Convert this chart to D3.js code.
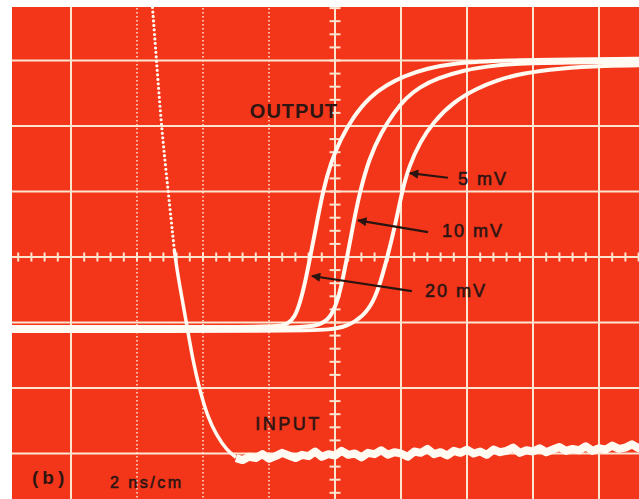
<!DOCTYPE html>
<html>
<head>
<meta charset="utf-8">
<script src="https://cdn.jsdelivr.net/npm/d3@7"></script>
<style>
  body { margin: 0; background: #fff; }
  text { font-family: "Liberation Sans", Arial, sans-serif; fill: #2e1512; }
</style>
</head>
<body>
<div id="scope"></div>
<script>
// time in ns (2 ns per division), level in divisions from screen bottom
var out20 = [[0,2.93],[7.4,2.93],[8.3,2.94],[8.57,2.98],[8.78,3.08],[8.94,3.30],[9.09,3.60],[9.24,3.98],[9.45,4.52],[9.64,5.02],[9.88,5.45],[10.15,5.78],[10.55,6.14],[11.06,6.45],[11.58,6.63],[12.07,6.76],[12.8,6.88],[13.6,6.96],[15.0,7.01],[20,7.03]];
var out10 = [[0,2.90],[8.6,2.90],[9.54,2.95],[9.85,3.07],[10.06,3.30],[10.21,3.60],[10.36,3.98],[10.56,4.52],[10.75,4.99],[11.04,5.51],[11.40,5.90],[11.78,6.20],[12.15,6.43],[12.55,6.59],[13.10,6.73],[13.89,6.85],[14.62,6.91],[15.32,6.95],[16.84,6.97],[20,6.98]];
var out5 = [[0,2.87],[9.0,2.87],[9.85,2.89],[10.36,2.94],[10.85,3.09],[11.18,3.33],[11.38,3.62],[11.58,3.98],[11.84,4.52],[12.04,5.02],[12.24,5.38],[12.58,5.76],[12.98,6.06],[13.59,6.37],[14.32,6.58],[14.92,6.70],[15.62,6.80],[16.84,6.88],[18.05,6.92],[20,6.93]];

var inputEdge = [[4.42,8.15],[4.47,7.80],[4.59,7.01],[4.74,5.98],[4.95,4.98],[5.13,4.11],[5.22,3.78],[5.36,3.38],[5.52,2.93],[5.69,2.43],[5.90,1.97],[6.14,1.56],[6.41,1.28],[6.72,1.05],[7.0,0.94]];
var inputFloor = [[7.0,.93],[7.2,.90],[7.4,.95],[7.6,.93],[7.8,.99],[8.0,.92],[8.2,.96],[8.4,1.01],[8.6,.97],[8.8,.93],[9.0,.98],[9.2,.96],[9.4,1.03],[9.6,.95],[9.8,.99],[10.0,.97],[10.2,1.04],[10.4,.98],[10.6,1.00],[10.8,.94],[11.0,1.01],[11.2,.99],[11.4,1.05],[11.6,.98],[11.8,1.02],[12.0,1.00],[12.2,.95],[12.4,1.03],[12.6,1.01],[12.8,1.07],[13.0,.99],[13.2,1.02],[13.4,.97],[13.6,1.04],[13.8,1.01],[14.0,1.06],[14.2,1.00],[14.4,1.03],[14.6,.98],[14.8,1.06],[15.0,1.02],[15.2,1.04],[15.4,1.09],[15.6,1.01],[15.8,1.05],[16.0,1.03],[16.2,1.08],[16.4,1.02],[16.6,1.06],[16.8,1.10],[17.0,1.04],[17.2,1.07],[17.4,1.05],[17.6,1.11],[17.8,1.04],[18.0,1.08],[18.2,1.06],[18.4,1.12],[18.6,1.07],[18.8,1.09],[19.0,1.14],[19.2,1.08],[19.4,1.11],[19.6,1.09],[19.8,1.14],[20.0,1.10]];

var timeGrid = [2, 4, 6, 8, 10, 12, 14, 16, 18];
var faintGrid = [4, 6, 8];
var levelGrid = [1, 2, 3, 4, 5, 6, 7];

var labels = [
  {text: "OUTPUT", t: 7.42, v: 6.12, size: 20, spacing: 1, bold: true},
  {text: "5 mV", t: 13.73, v: 5.10, size: 18, spacing: 2},
  {text: "10 mV", t: 13.24, v: 4.31, size: 18, spacing: 2},
  {text: "20 mV", t: 12.73, v: 3.39, size: 18, spacing: 2},
  {text: "INPUT", t: 7.58, v: 1.36, size: 18, spacing: 2.5},
  {text: "(b)", t: 0.82, v: 0.53, size: 19, spacing: 4, bold: true},
  {text: "2 ns/cm", t: 3.18, v: 0.47, size: 16, spacing: 2.5}
];
var arrows = [
  {from: [13.42, 5.21], to: [12.27, 5.28]},
  {from: [12.82, 4.38], to: [10.70, 4.56]},
  {from: [12.33, 3.48], to: [9.30, 3.71]}
];

var width = 639, height = 499;
var x = d3.scaleLinear().domain([0, 20]).range([5, 665]);
var y = d3.scaleLinear().domain([0, 8]).range([519, -5]);

var svg = d3.select("#scope").append("svg")
    .attr("width", width)
    .attr("height", height);

var defs = svg.append("defs");
defs.append("clipPath").attr("id", "screen")
  .append("rect").attr("x", 12).attr("y", 7).attr("width", width - 12).attr("height", height - 7);

defs.append("marker")
    .attr("id", "head")
    .attr("viewBox", "0 0 10 10")
    .attr("refX", 9).attr("refY", 5)
    .attr("markerWidth", 5.5).attr("markerHeight", 4.2)
    .attr("markerUnits", "strokeWidth")
    .attr("orient", "auto")
  .append("path").attr("d", "M0,0L10,5L0,10z").attr("fill", "#2a1410");

var g = svg.append("g").attr("clip-path", "url(#screen)");

g.append("rect")
    .attr("x", 12).attr("y", 7)
    .attr("width", width - 12).attr("height", height - 7)
    .attr("fill", "#f3361a");

var gridColor = "#fbe4d0";

g.selectAll(".vline").data(timeGrid).enter().append("line")
    .attr("x1", function (d) { return x(d); })
    .attr("x2", function (d) { return x(d); })
    .attr("y1", 0).attr("y2", height)
    .attr("stroke", gridColor)
    .attr("stroke-width", 2)
    .attr("stroke-dasharray", function (d) { return faintGrid.indexOf(d) >= 0 ? "1.5,2.5" : null; })
    .attr("opacity", function (d) { return faintGrid.indexOf(d) >= 0 ? 0.8 : 1; });

g.selectAll(".hline").data(levelGrid).enter().append("line")
    .attr("y1", function (d) { return y(d); })
    .attr("y2", function (d) { return y(d); })
    .attr("x1", 0).attr("x2", width)
    .attr("stroke", gridColor)
    .attr("stroke-width", 2);

// minor ticks on the centre axes, 5 per division
var xTicks = d3.range(0, 20.01, 0.4);
var yTicks = d3.range(0, 8.01, 0.2);

g.selectAll(".xt").data(xTicks).enter().append("line")
    .attr("x1", function (d) { return x(d); })
    .attr("x2", function (d) { return x(d); })
    .attr("y1", y(4) - 4.5).attr("y2", y(4) + 4.5)
    .attr("stroke", gridColor).attr("stroke-width", 2);

g.selectAll(".yt").data(yTicks).enter().append("line")
    .attr("y1", function (d) { return y(d); })
    .attr("y2", function (d) { return y(d); })
    .attr("x1", x(10) - 5.5).attr("x2", x(10) + 5.5)
    .attr("stroke", gridColor).attr("stroke-width", 2);

var traceColor = "#fffaf2";

var smooth = d3.line()
    .x(function (d) { return x(d[0]); })
    .y(function (d) { return y(d[1]); })
    .curve(d3.curveBasis);

var jagged = d3.line()
    .x(function (d) { return x(d[0]); })
    .y(function (d) { return y(d[1]); });

g.selectAll(".out").data([out20, out10, out5]).enter().append("path")
    .attr("d", smooth)
    .attr("fill", "none")
    .attr("stroke", traceColor)
    .attr("stroke-width", 4)
    .attr("stroke-linejoin", "round");

// input: fast part is dotted, slow part solid
var fast = inputEdge.filter(function (d) { return d[1] >= 4.1; });
var slow = inputEdge.filter(function (d) { return d[1] <= 4.12; });

g.append("path")
    .attr("d", smooth(fast))
    .attr("fill", "none")
    .attr("stroke", traceColor)
    .attr("stroke-width", 3.2)
    .attr("stroke-linecap", "round")
    .attr("stroke-dasharray", "0,4.5");

g.append("path")
    .attr("d", smooth(slow))
    .attr("fill", "none")
    .attr("stroke", traceColor)
    .attr("stroke-width", 3.5);

g.append("path")
    .attr("d", jagged(inputFloor))
    .attr("fill", "none")
    .attr("stroke", traceColor)
    .attr("stroke-width", 8)
    .attr("stroke-linejoin", "round");

g.selectAll(".arrow").data(arrows).enter().append("line")
    .attr("x1", function (d) { return x(d.from[0]); })
    .attr("y1", function (d) { return y(d.from[1]); })
    .attr("x2", function (d) { return x(d.to[0]); })
    .attr("y2", function (d) { return y(d.to[1]); })
    .attr("stroke", "#2a1410")
    .attr("stroke-width", 2.2)
    .attr("marker-end", "url(#head)");

g.selectAll(".label").data(labels).enter().append("text")
    .attr("x", function (d) { return x(d.t); })
    .attr("y", function (d) { return y(d.v); })
    .attr("font-size", function (d) { return d.size; })
    .attr("font-weight", function (d) { return d.bold ? "bold" : "normal"; })
    .attr("letter-spacing", function (d) { return d.spacing; })
    .attr("stroke", "#2e1512")
    .attr("stroke-width", function (d) { return d.bold ? 0 : 0.6; })
    .text(function (d) { return d.text; });
</script>
</body>
</html>
